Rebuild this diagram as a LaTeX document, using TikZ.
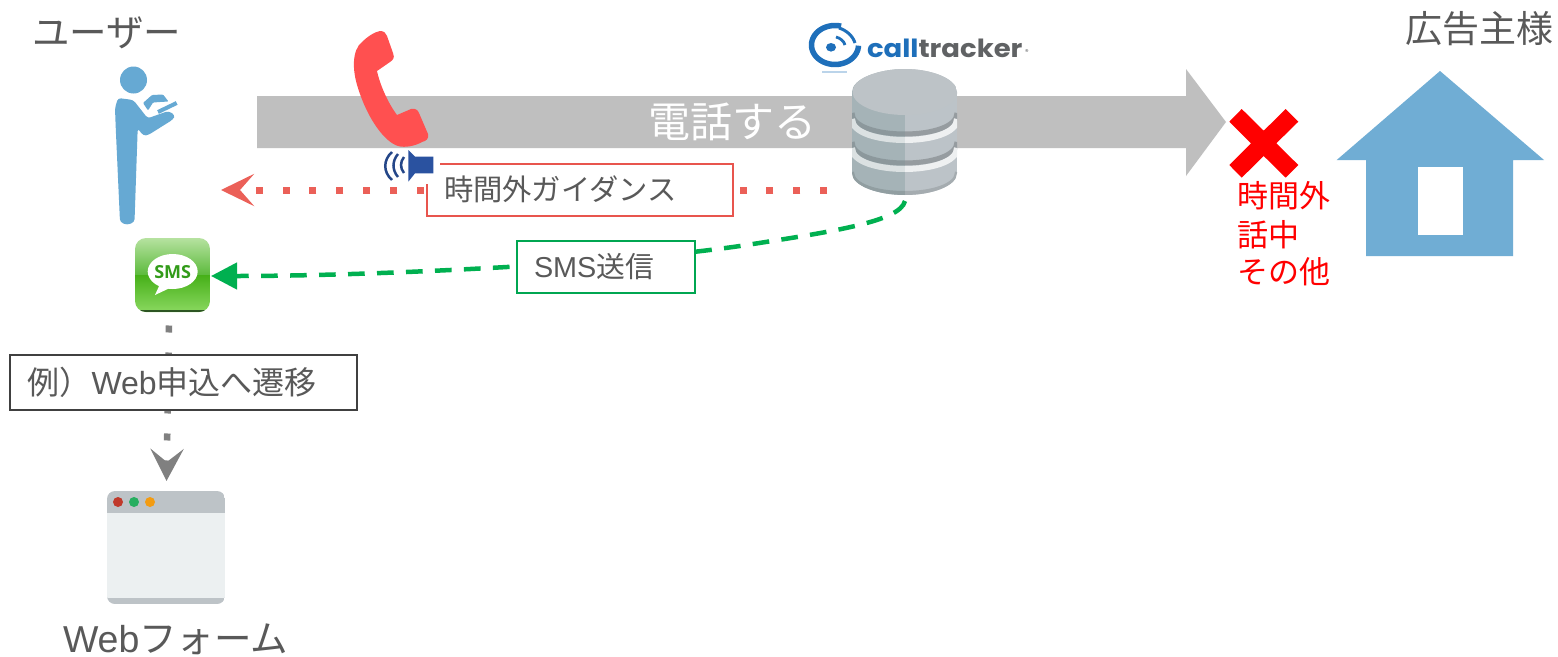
\documentclass[tikz,border=0pt]{standalone}
\usepackage{fontspec}
\setmainfont{Liberation Sans}
\newfontfamily\jp{Noto Sans CJK JP}
\newfontfamily\logofont{Poppins}
\newfontfamily\smsfont{Open Sans}
\usetikzlibrary{arrows.meta}
\definecolor{txtgrey}{HTML}{595959}
\definecolor{bararrow}{HTML}{BFBFBF}
\definecolor{phonered}{HTML}{FF5050}
\definecolor{dotred}{HTML}{EB6058}
\definecolor{framered}{HTML}{E8554E}
\definecolor{smsgreen}{HTML}{00B050}
\definecolor{framegreen}{RGB}{0,166,81}
\definecolor{dotgrey}{HTML}{808080}
\definecolor{framedark}{HTML}{404040}
\definecolor{person}{HTML}{66A9D3}
\definecolor{house}{HTML}{70ADD4}
\definecolor{speaker}{HTML}{2A52A0}
\definecolor{logoblue}{HTML}{1E6FBA}
\definecolor{logogrey}{HTML}{606264}
\definecolor{dbleft}{HTML}{A5B3B7}
\definecolor{dbright}{HTML}{BCC3C8}
\definecolor{dbtop}{HTML}{BDC3C7}
\definecolor{smsa}{RGB}{182,226,160}
\definecolor{smsb}{RGB}{92,186,60}
\definecolor{smsc}{RGB}{70,176,24}
\definecolor{smsd}{RGB}{138,216,96}
\definecolor{smse}{RGB}{45,85,35}
\definecolor{smsf}{RGB}{50,155,25}
\definecolor{winbar}{RGB}{189,195,199}
\definecolor{winbody}{RGB}{236,240,241}
\definecolor{winr}{RGB}{192,57,43}
\definecolor{wing}{RGB}{39,174,96}
\definecolor{winy}{RGB}{243,156,18}
\newcommand{\fs}[1]{\fontsize{#1}{#1}\selectfont}
\newcommand{\dbband}[3]{\draw[line width=#2,draw=#3] (852,#1) .. controls (852,#1+28) and (957,#1+28) .. (957,#1);}
\tikzset{
  txt/.style={inner sep=0pt,outer sep=0pt,text=txtgrey,anchor=west},
  labelbox/.style={fill=white,line width=2pt,outer sep=0pt,inner ysep=0pt,inner xsep=17.5pt,anchor=north west,text=txtgrey,align=left},
}
\begin{document}
\begin{tikzpicture}[x=1pt,y=-1pt]
\useasboundingbox (0,0) rectangle (1558,656);
\fill[white] (0,0) rectangle (1558,656);

% big arrow
\fill[bararrow] (257,96) -- (1186,96) -- (1186,69) -- (1226,122) -- (1186,176) -- (1186,148) -- (257,148) -- cycle;
\node[txt,text=white] (call) at (648,122) {\jp\fs{42}電話する};

% headings
\node[txt] (user) at (32,33) {\jp\fs{37.5}ユーザー};
\node[txt] (adv) at (1405,29) {\jp\fs{37}広告主様};
\node[txt] (form) at (63,639.5) {\fs{37.5}Web\jp フォーム};

% person
\fill[person] (133.5,80) circle (13.5);
\fill[person,rounded corners=3pt] (115,108) -- (118,98) -- (133.3,100) -- (147.7,118.3) -- (168.3,111) -- (175,115) -- (173.3,119.3) -- (148.3,135) -- (143.3,135.7) -- (137.7,128.3) -- (134.5,222) -- (127,225) -- (120,222) -- (115.7,127) -- cycle;
\fill[person,rounded corners=1pt] (143,103) -- (152,95) -- (163,94.5) -- (168.5,101.5) -- (160,102) -- (153,102.5) -- (148,110.5) -- cycle;
\draw[person,line width=4pt] (158,112) -- (176.7,103);

% phone receiver
\fill[phonered] (380,31) .. controls (384,31) and (386,33) .. (387,36) -- (393,53) .. controls (395,58) and (393,60) .. (390,62) -- (377,71) .. controls (380,85) and (388,103) .. (397,115) -- (411,109) .. controls (415,108) and (418,110) .. (419,113) -- (428,134) .. controls (429,139) and (426,141) .. (422,142) .. controls (415,146) and (405,148) .. (398,146) .. controls (385,142) and (368,120) .. (358,88) .. controls (352,70) and (352,50) .. (362,42) .. controls (367,37) and (374,32) .. (380,31) -- cycle;

% database
\begin{scope}
\clip (852,92) -- (852,173) .. controls (852,186) and (878,195) .. (905,195) .. controls (932,195) and (957,186) .. (957,173) -- (957,92) .. controls (957,79) and (932,69) .. (905,69) .. controls (878,69) and (852,79) .. (852,92) -- cycle;
\begin{scope}
\clip (852,60) rectangle (905,200);
\fill[dbleft] (852,60) rectangle (905,200);
\dbband{113}{5pt}{black!15!dbleft}
\dbband{119}{6pt}{white!60!dbleft}
\dbband{142}{5pt}{black!15!dbleft}
\dbband{148}{6pt}{white!60!dbleft}
\dbband{172}{4pt}{black!12!dbleft}
\end{scope}
\begin{scope}
\clip (905,60) rectangle (957,200);
\fill[dbright] (905,60) rectangle (957,200);
\dbband{113}{5pt}{black!20!dbright}
\dbband{119}{6pt}{white!75!dbright}
\dbband{142}{5pt}{black!20!dbright}
\dbband{148}{6pt}{white!75!dbright}
\dbband{172}{4pt}{black!12!dbright}
\end{scope}
\fill[dbtop] (905,92) ellipse [x radius=52.5,y radius=23];
\end{scope}

% logo
\draw[logoblue,line width=5.5pt,smooth] plot[domain=-75:-358,samples=50] ({835+23.5*cos(\x)},{45+19.5*sin(\x)});
\fill[logoblue] (831,47.3) ellipse [x radius=5,y radius=4.3];
\draw[logoblue,line width=2.8pt] (836,37) .. controls (840,38) and (844,41) .. (845,45);
\draw[logoblue,line width=3pt] (839,28) .. controls (846,30) and (853,36) .. (855,43);
\node[inner sep=0pt,outer sep=0pt,anchor=base west,xscale=1.1,transform shape,text=logoblue] (logoa) at (867,57) {\logofont\bfseries\fs{25}call};
\node[inner sep=0pt,outer sep=0pt,anchor=base west,xscale=1.1,transform shape,text=logogrey] (logob) at (logoa.base east) {\logofont\bfseries\fs{25}tracker};
\node[inner sep=0pt,outer sep=0pt,text=logogrey] (logor) at (1027,52) {\logofont\fs{7}®};
\fill[logoblue!30] (822,71) rectangle (847,73);

% connectors
\coordinate (dbW) at (827.2,190);
\coordinate (userE) at (221,190);
\coordinate (dbS) at (905,201);
\coordinate (smsE) at (211,276);
\coordinate (smsS) at (169,325.5);
\coordinate (formN) at (166.5,481);
\draw[dotred,line width=7pt,dash pattern=on 7pt off 19.88pt,-{Stealth[length=33pt,width=32pt,inset=14pt]}] (dbW) -- (userE);
\draw[smsgreen,line width=4.5pt,dash pattern=on 16.7pt off 12.3pt,-{Stealth[length=26pt,width=26pt,inset=0pt]}] (dbS) .. controls (900,222) and (830,232) .. (740,246) .. controls (670,256) and (590,262) .. (507,267) .. controls (420,272) and (320,276) .. (smsE);
\draw[dotgrey,line width=6.5pt,dash pattern=on 7pt off 20pt,-{Stealth[length=32pt,width=33pt,inset=13pt]}] (smsS) -- (formN);

% label boxes
\node[labelbox,draw=framered,text width=271pt,minimum height=52pt] (guide) at (426.5,163.5) {\jp\fs{29.3}時間外ガイダンス};
\node[labelbox,draw=framegreen,text width=143pt,minimum height=52pt] (smsbox) at (516.5,240.5) {\fs{28.8}SMS\jp 送信};
\node[labelbox,draw=framedark,text width=312pt,minimum height=55pt] (webbox) at (10,354.5) {\jp\fs{32}例）\rmfamily Web\jp 申込へ遷移};

% speaker (its white ground hides the corner of the guidance box)
\fill[white] (378,148.5) rectangle (440,184);
\fill[speaker] (408.3,150) -- (415,156.7) -- (433.3,156.7) -- (433.3,173.3) -- (415,173.3) -- (408.3,181.7) -- cycle;
\draw[speaker!85!black,line width=2.5pt] (404,157) .. controls (400,162) and (400,168) .. (404,173);
\draw[speaker!85!black,line width=2.5pt] (398,154) .. controls (392,161) and (392,170) .. (398,177);
\draw[speaker!85!black,line width=2.5pt] (392,152) .. controls (383,160) and (383,172) .. (392,180);

% SMS icon
\begin{scope}
\clip[rounded corners=11pt] (135,238) rectangle (210,312);
\shade[top color=smsa,bottom color=smsb] (135,238) rectangle (210,275);
\shade[top color=smsc,bottom color=smsd] (135,275) rectangle (210,312);
\fill[smse] (135,309.5) rectangle (210,312);
\end{scope}
\fill[white] (172.7,271.5) ellipse [x radius=25,y radius=17.5];
\fill[white] (160,284) -- (155,295) -- (172,287) -- cycle;
\node[inner sep=0pt,outer sep=0pt,text=smsf] (smsic) at (172.7,272) {\smsfont\bfseries\fs{18}SMS};

% browser window
\begin{scope}
\clip[rounded corners=8pt] (107,491) rectangle (225,604);
\fill[winbar] (107,491) rectangle (225,604);
\fill[winbody] (107,513) rectangle (225,598);
\end{scope}
\fill[winr] (118,502) circle (5);
\fill[wing] (134,502) circle (5);
\fill[winy] (150,502) circle (5);

% red cross
\fill[red] (1229.3,121.7) -- (1241.7,109) -- (1263.7,130.7) -- (1285.7,109) -- (1298.3,121.7) -- (1276.3,143.3) -- (1298.3,165) -- (1285.7,177.7) -- (1263.7,156) -- (1241.7,177.7) -- (1229.3,165) -- (1251,143.3) -- cycle;
\node[inner sep=0pt,outer sep=0pt,anchor=west,text=red,font=\jp\fontsize{31}{38}\selectfont] (reason1) at (1237,196) {時間外};
\node[inner sep=0pt,outer sep=0pt,anchor=west,text=red,font=\jp\fontsize{31}{38}\selectfont] (reason2) at (1237,234.5) {話中};
\node[inner sep=0pt,outer sep=0pt,anchor=west,text=red,font=\jp\fontsize{31}{38}\selectfont] (reason3) at (1237,272) {その他};

% house
\fill[house] (1440,71) -- (1544,160) -- (1513,160) -- (1513,256) -- (1366,256) -- (1366,160) -- (1336.7,160) -- cycle;
\fill[white] (1417.7,166.7) rectangle (1462.7,234.7);
\end{tikzpicture}
\end{document}
